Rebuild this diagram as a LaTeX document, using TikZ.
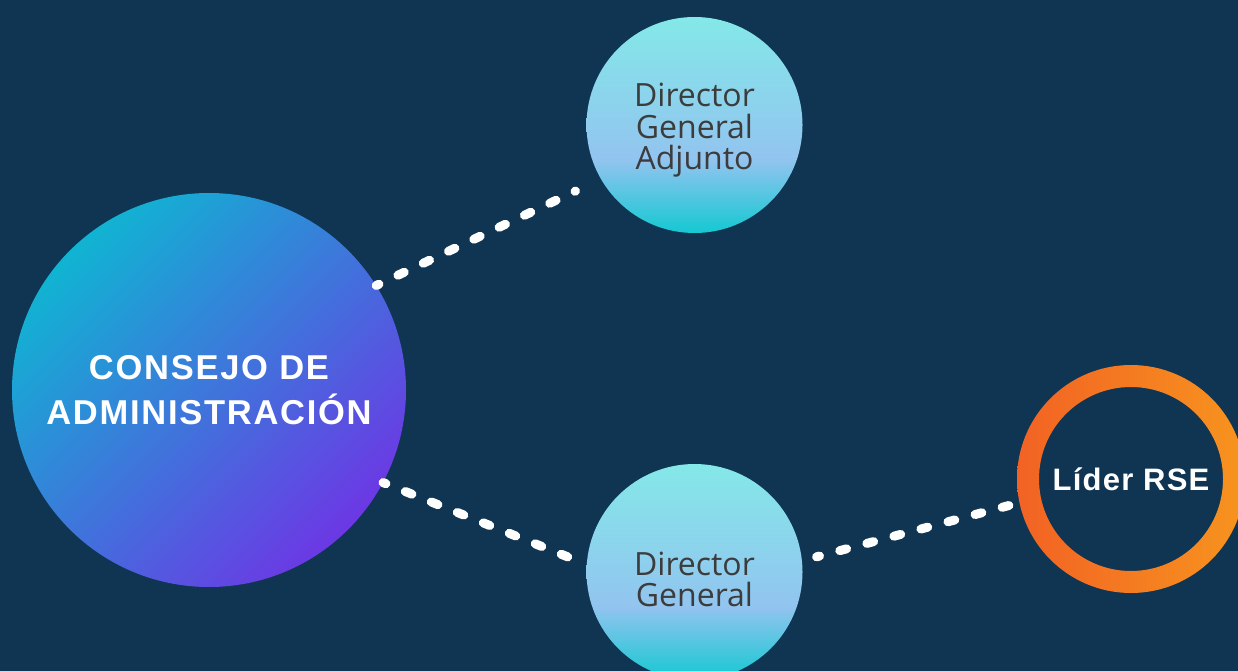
\documentclass[tikz,border=0pt]{standalone}
\usepackage{fontspec}
\setmainfont{Open Sans}
\newfontfamily\consejofont[LetterSpace=5]{Liberation Sans}
\newfontfamily\liderfont[LetterSpace=4]{Liberation Sans}
\usetikzlibrary{positioning}
\definecolor{fondo}{HTML}{0F3553}
\definecolor{consA}{HTML}{10B4D2}
\definecolor{consB}{HTML}{6C38E4}
\definecolor{dirtop}{HTML}{84E8E8}
\definecolor{dirmid}{HTML}{92C4EF}
\definecolor{dirbot}{HTML}{14C8D2}
\definecolor{dirtext}{HTML}{3C3C3C}
\definecolor{ringA}{HTML}{F26224}
\definecolor{ringB}{HTML}{F7941E}
\pgfdeclareverticalshading{dirshade}{100bp}{color(0bp)=(dirbot); color(25bp)=(dirbot); color(42bp)=(dirmid); color(75bp)=(dirtop); color(100bp)=(dirtop)}

\begin{document}
\begin{tikzpicture}[x=1pt,y=-1pt,
  big node/.style={circle,minimum size=394pt,inner sep=0pt,left color=consA,right color=consB,shading angle=45,
    text=white,align=center,font=\consejofont\bfseries\fontsize{34.5}{45}\selectfont},
  dir node/.style={circle,minimum size=216pt,inner sep=0pt,shading=dirshade,
    text=dirtext,font=\fontsize{32}{31}\selectfont},
  rse node/.style={circle,minimum size=228pt,inner sep=0pt,text=white,font=\liderfont\bfseries\fontsize{31}{36}\selectfont},
  link/.style={white,line width=9pt,line cap=round,dash pattern=on 7pt off 21pt,dash phase=4pt}]

\fill[fondo] (0,0) rectangle (1238,671);
\useasboundingbox (0,0) rectangle (1238,671);

\node[big node] (C) at (209,390) {CONSEJO DE\\ADMINISTRACIÓN};
\node[dir node] (DGA) at (694.5,125)
  {\raisebox{-6pt}[\height][\depth]{\begin{tabular}{@{}c@{}}Director\\[-2pt]General\\[-2pt]Adjunto\end{tabular}}};
\node[dir node] (DG) at (694.5,572)
  {\raisebox{-12pt}[\height][\depth]{\begin{tabular}{@{}c@{}}Director\\[-2pt]General\end{tabular}}};
\node[rse node] (L) at (1131,479) {Líder RSE};
\path[left color=ringA,right color=ringB,even odd rule] (L.center) circle[radius=114pt] (L.center) circle[radius=92pt];

\draw[link,shorten >=28pt] (C.32.6) -- (DGA.-150);
\draw[link,shorten >=20pt] (C.-28.9) -- (DG.176.9);
\draw[link,shorten <=15pt,shorten >=10pt] (DG.6) -- (L.192.6);
\end{tikzpicture}
\end{document}
